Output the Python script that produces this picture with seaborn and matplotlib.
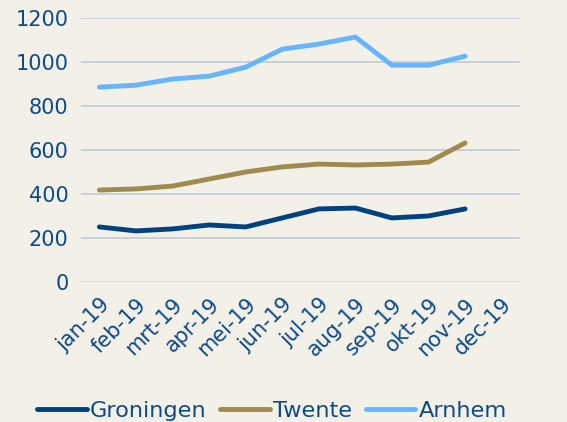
import matplotlib
matplotlib.use("Agg")
import matplotlib.pyplot as plt
import seaborn as sns
import pandas as pd

months = ["jan-19", "feb-19", "mrt-19", "apr-19", "mei-19", "jun-19",
          "jul-19", "aug-19", "sep-19", "okt-19", "nov-19", "dec-19"]
groningen = [250, 232, 241, 259, 250, 291, 332, 336, 291, 300, 332, None]
twente = [418, 423, 436, 468, 500, 523, 536, 532, 536, 545, 632, None]
arnhem = [886, 895, 923, 936, 977, 1059, 1082, 1114, 986, 986, 1027, None]
series_names = ["Groningen", "Twente", "Arnhem"]
colors = ["#004181", "#a08a4e", "#66b5ff"]

rows = []
for name, vals in zip(series_names, [groningen, twente, arnhem]):
    for i, (m, v) in enumerate(zip(months, vals)):
        if v is not None:
            rows.append({"idx": i, "month": m, "value": v, "series": name})
df = pd.DataFrame(rows)

bg = "#f3f0e8"
txt = "#0d4a8a"
sns.set_style("white")
plt.rcParams["font.family"] = ["DejaVu Sans"]

fig = plt.figure(figsize=(5.67, 4.22), dpi=100, facecolor=bg)
ax = fig.add_axes([0.143, 0.332, 0.774, 0.625])
ax.set_facecolor(bg)

sns.lineplot(data=df, x="idx", y="value", hue="series", hue_order=series_names,
             palette=colors, linewidth=3.5, ax=ax, legend=True, sort=False)

ax.set_xlim(-0.5, 11.5)
ax.set_ylim(0, 1200)
ax.set_yticks(range(0, 1201, 200))
ax.set_xticks(range(12))
ax.set_xticklabels(months, rotation=45, ha="right", rotation_mode="anchor")
for y in range(200, 1201, 200):
    ax.axhline(y, color="#c5cbe0", linewidth=1.3, zorder=0)
ax.axhline(0, color="#c9e0f5", linewidth=1.5, zorder=0)
for s in ax.spines.values():
    s.set_visible(False)
ax.tick_params(axis="both", length=0, labelsize=15, colors=txt)
ax.tick_params(axis="y", pad=9)
ax.tick_params(axis="x", pad=9)
ax.set_xlabel("")
ax.set_ylabel("")

handles, labels = ax.get_legend_handles_labels()
ax.legend(handles, labels, loc="lower center", bbox_to_anchor=(0.48, -0.025),
          bbox_transform=fig.transFigure, ncol=3, frameon=False,
          fontsize=16.2, labelcolor=txt, handlelength=2.2, handletextpad=0.15,
          columnspacing=0.6, borderaxespad=0.1)

fig.savefig("out.png", dpi=100, facecolor=bg)
